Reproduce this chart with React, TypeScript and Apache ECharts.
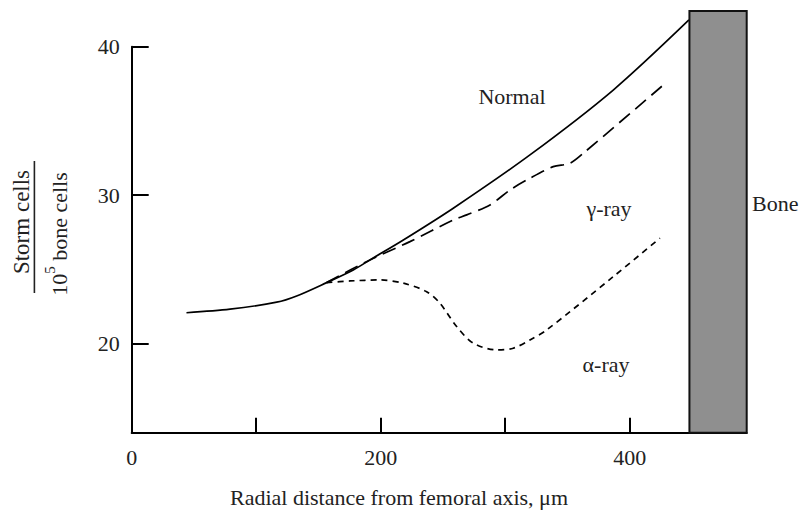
import React, { useEffect, useRef } from "react";
import * as echarts from "echarts";

// x: radial distance (µm), y: storm cells per 10^5 bone cells
const normalX = [44, 79, 116.5, 132.5, 156.6, 178, 191.4, 218.2, 258.3, 319.9, 386.8, 447.6];
const normalY = [22.08, 22.32, 22.79, 23.21, 24.11, 24.96, 25.64, 26.98, 29.12, 32.71, 37.08, 41.8];

const gammaX = [156.6, 191.4, 223.5, 258.3, 269.1, 287.8, 303.9, 319.9, 338.6, 352, 362.7, 427];
const gammaY = [24.11, 25.64, 26.87, 28.33, 28.67, 29.34, 30.35, 31.14, 31.92, 32.15, 32.82, 37.42];

const alphaX = [156.6, 175.3, 199.4, 218.2, 236.9, 247.6, 261, 274.4, 293.2, 306.5, 319.9, 333.3, 386.8, 424.3];
const alphaY = [24.11, 24.22, 24.29, 24.07, 23.5, 22.72, 21.15, 20.03, 19.58, 19.69, 20.25, 20.92, 24.51, 27.1];

// bone block: [xStart, xEnd, yBottom, yTop]
const boneBlock = [[448, 494, 14, 42.4]];

const xTicks = [100, 200, 300, 400];
const xLabels = [0, 200, 400];
const yTicks = [20, 30, 40];
const yLabels = [20, 30, 40];

const FONT = "'Liberation Serif', 'Times New Roman', serif";

const zip = (xs: number[], ys: number[]) => xs.map((x, i) => [x, ys[i]]);

export default function App() {
  const ref = useRef<HTMLDivElement>(null);
  useEffect(() => {
    if (!ref.current) return;
    const chart = echarts.init(ref.current, null, { renderer: "svg" });
    const option: any = {
      animation: false,
      backgroundColor: "#ffffff",
      grid: { left: 131.7, right: 64.3, top: 46.7, bottom: 77.3 },
      xAxis: {
        type: "value",
        min: 0,
        max: 494,
        splitLine: { show: false },
        axisLine: { show: true, lineStyle: { color: "#000", width: 2 } },
        axisTick: { show: true, inside: true, length: 15, customValues: xTicks, lineStyle: { color: "#000", width: 2 } },
        axisLabel: { customValues: xLabels, color: "#222", fontFamily: FONT, fontSize: 22, margin: 14 },
      },
      yAxis: {
        type: "value",
        min: 14,
        max: 40,
        splitLine: { show: false },
        axisLine: { show: true, lineStyle: { color: "#000", width: 2 } },
        axisTick: { show: true, inside: true, length: 17, customValues: yTicks, lineStyle: { color: "#000", width: 2 } },
        axisLabel: { customValues: yLabels, color: "#222", fontFamily: FONT, fontSize: 22, margin: 12 },
      },
      series: [
        {
          type: "line",
          name: "Normal",
          data: zip(normalX, normalY),
          smooth: 0.3,
          showSymbol: false,
          clip: false,
          lineStyle: { color: "#000", width: 1.7, type: "solid" },
          z: 3,
        },
        {
          type: "line",
          name: "γ-ray",
          data: zip(gammaX, gammaY),
          smooth: 0.3,
          showSymbol: false,
          clip: false,
          lineStyle: { color: "#000", width: 1.7, type: [14, 7] },
          z: 3,
        },
        {
          type: "line",
          name: "α-ray",
          data: zip(alphaX, alphaY),
          smooth: 0.3,
          showSymbol: false,
          clip: false,
          lineStyle: { color: "#000", width: 1.7, type: [6, 5] },
          z: 3,
        },
        {
          type: "custom",
          name: "Bone",
          clip: false,
          z: 10,
          encode: { x: [0, 1], y: [2, 3] },
          data: boneBlock,
          renderItem: (params: any, api: any) => {
            const p0 = api.coord([api.value(0), api.value(3)]);
            const p1 = api.coord([api.value(1), api.value(2)]);
            return {
              type: "rect",
              shape: { x: p0[0], y: p0[1], width: p1[0] - p0[0], height: p1[1] - p0[1] },
              style: { fill: "#8f8f8f", stroke: "#111", lineWidth: 2 },
            };
          },
        },
      ],
      graphic: [
        {
          type: "text",
          x: 399,
          y: 497,
          style: { text: "Radial distance from femoral axis, μm", fontFamily: FONT, fontSize: 22, fill: "#222", align: "center", verticalAlign: "middle" },
        },
        {
          type: "text",
          x: 21,
          y: 222,
          rotation: Math.PI / 2,
          style: { text: "Storm cells", fontFamily: FONT, fontSize: 23, fill: "#222", align: "center", verticalAlign: "middle" },
        },
        {
          type: "rect",
          shape: { x: 33.6, y: 161, width: 1.6, height: 132 },
          style: { fill: "#222" },
        },
        {
          type: "text",
          x: 56,
          y: 234,
          rotation: Math.PI / 2,
          style: {
            text: "{a|10}{s|5}{a| bone cells}",
            fontFamily: FONT,
            fontSize: 22,
            fill: "#222",
            align: "center",
            verticalAlign: "middle",
            rich: {
              a: { fontFamily: FONT, fontSize: 22, fill: "#222", lineHeight: 28, verticalAlign: "bottom" },
              s: { fontFamily: FONT, fontSize: 15, fill: "#222", lineHeight: 28, verticalAlign: "top" },
            },
          },
        },
        {
          type: "text",
          x: 512,
          y: 96,
          style: { text: "Normal", fontFamily: FONT, fontSize: 22, fill: "#222", align: "center", verticalAlign: "middle" },
        },
        {
          type: "text",
          x: 609,
          y: 208,
          style: { text: "γ-ray", fontFamily: FONT, fontSize: 22, fill: "#222", align: "center", verticalAlign: "middle" },
        },
        {
          type: "text",
          x: 606,
          y: 364,
          style: { text: "α-ray", fontFamily: FONT, fontSize: 22, fill: "#222", align: "center", verticalAlign: "middle" },
        },
        {
          type: "text",
          x: 752,
          y: 203,
          style: { text: "Bone", fontFamily: FONT, fontSize: 22, fill: "#222", align: "left", verticalAlign: "middle" },
        },
      ],
    };
    chart.setOption(option);
    return () => chart.dispose();
  }, []);
  return <div ref={ref} style={{ position: "fixed", left: 0, top: 0, width: 811, height: 510 }} />;
}
